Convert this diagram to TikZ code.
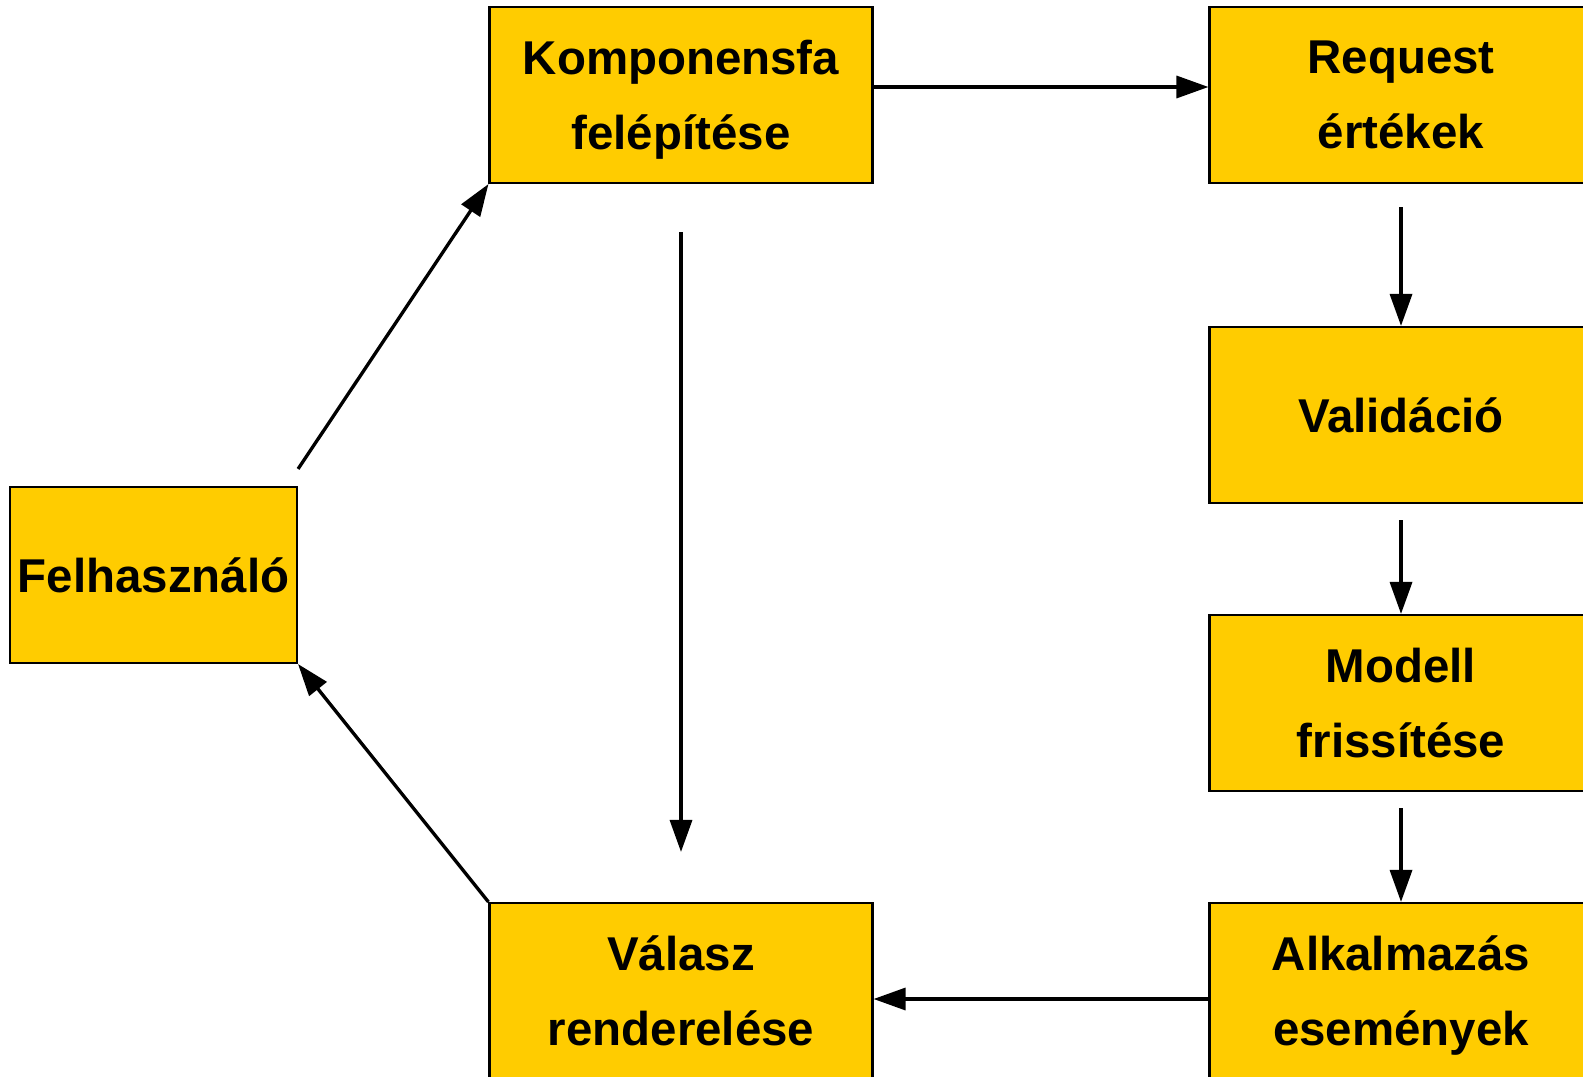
\documentclass[tikz,border=0pt]{standalone}
\usepackage{fontspec}
\setmainfont{Liberation Sans}
\usetikzlibrary{arrows.meta}
\definecolor{gold}{HTML}{FFCC00}

\begin{document}
\begin{tikzpicture}[
	box/.style={draw=black, line width=0.6pt, fill=gold, minimum width=3.83cm, minimum height=1.76cm, inner sep=0pt, align=center, text depth=0pt, font=\fontsize{13.5}{21.3}\selectfont\bfseries},
	flow/.style={line width=0.95pt, -{Triangle[length=3.2mm, width=2.2mm]}}
]
			%%%%% START %%%%%
			
			\useasboundingbox (0, 0) rectangle (15.83, 10.76);
			
			\node[box, minimum width=2.87cm] (felh) at (1.535, 5.01) {Felhasználó};
			
			\node[box] (komp) at (6.81, 9.81) {Komponensfa\\felépítése};
			\node[box] (valasz) at (6.81, 0.85) {Válasz\\renderelése};
			
			\node[box] (req) at (14.01, 9.81) {Request\\értékek};
			\node[box] (valid) at (14.01, 6.61) {Validáció};
			\node[box] (modell) at (14.01, 3.73) {Modell\\frissítése};
			\node[box] (alk) at (14.01, 0.85) {Alkalmazás\\események};
			
			\draw[flow] ([yshift=0.17cm]felh.north east) -- (komp.south west);
			\draw[flow] ([yshift=0.08cm]komp.east) -- ([yshift=0.08cm]req.west);
			\draw[flow] ([yshift=-0.23cm]req.south) -- (valid.north);
			\draw[flow] ([yshift=-0.16cm]valid.south) -- (modell.north);
			\draw[flow] ([yshift=-0.16cm]modell.south) -- (alk.north);
			\draw[flow] ([yshift=-0.08cm]alk.west) -- ([yshift=-0.08cm]valasz.east);
			\draw[flow] ([yshift=-0.48cm]komp.south) -- ([yshift=0.5cm]valasz.north);
			\draw[flow] (valasz.north west) -- (felh.south east);
			
			%%%%% END %%%%%
\end{tikzpicture}
\end{document}
